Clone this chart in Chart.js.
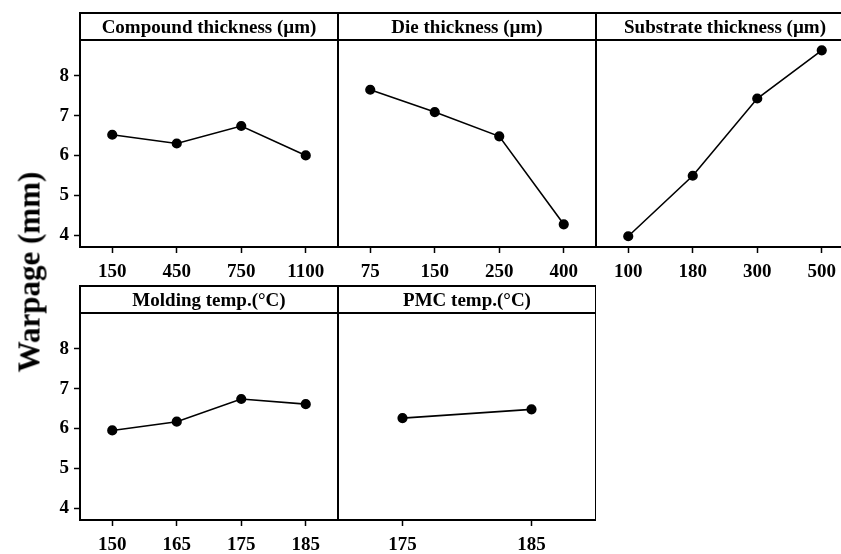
<!DOCTYPE html>
<html><head><meta charset="utf-8">
<script src="https://cdn.jsdelivr.net/npm/chart.js@4.4.0/dist/chart.umd.min.js"></script>
<style>
html,body{margin:0;padding:0;background:#fff;overflow:hidden;width:841px;height:554px;}
#wrap{position:relative;width:841px;height:554px;overflow:hidden;background:#fff;}
canvas{position:absolute;}
#ylab{position:absolute;left:28.5px;top:271.5px;transform:translate(-50%,-50%) rotate(-90deg);white-space:nowrap;font:bold 31px "Liberation Serif",serif;color:#000;line-height:1;}
</style></head><body>
<div id="wrap">
<canvas id="c1" width="338" height="280" style="left:0;top:0"></canvas>
<canvas id="c2" width="258" height="280" style="left:338px;top:0"></canvas>
<canvas id="c3" width="258" height="280" style="left:596px;top:0"></canvas>
<canvas id="c4" width="338" height="282" style="left:0;top:272px"></canvas>
<canvas id="c5" width="258" height="282" style="left:338px;top:272px"></canvas>
<div id="ylab">Warpage (mm)</div>
</div>
<script>
// ---- data ----
const compoundLabels = ['150','450','750','1100'];
const compoundValues = [6.52, 6.30, 6.74, 6.00];
const dieLabels = ['75','150','250','400'];
const dieValues = [7.65, 7.09, 6.48, 4.27];
const substrateLabels = ['100','180','300','500'];
const substrateValues = [3.97, 5.49, 7.43, 8.64];
const moldingLabels = ['150','165','175','185'];
const moldingValues = [5.95, 6.17, 6.74, 6.61];
const pmcLabels = ['175','185'];
const pmcValues = [6.26, 6.48];
const panelTitles = ['Compound thickness (\u00b5m)','Die thickness (\u00b5m)','Substrate thickness (\u00b5m)','Molding temp.(\u00b0C)','PMC temp.(\u00b0C)'];
const yTicks = [4,5,6,7,8];
const yMin = 3.7, yMax = 8.9;

const FONT = '"Liberation Serif", "Times New Roman", serif';

const framePlugin = {
  id: 'frame',
  afterDraw(chart, args, opts) {
    const {ctx, chartArea: a} = chart;
    const hTop = a.top - opts.headerH;
    ctx.save();
    ctx.strokeStyle = '#000';
    ctx.lineWidth = 2;
    ctx.beginPath();
    ctx.rect(a.left, hTop, a.right - a.left, a.bottom - hTop);
    ctx.moveTo(a.left, a.top); ctx.lineTo(a.right, a.top);
    ctx.stroke();
    ctx.fillStyle = '#000';
    ctx.font = 'bold 19px ' + FONT;
    ctx.textAlign = 'center';
    ctx.textBaseline = 'middle';
    ctx.fillText(opts.title, (a.left + a.right) / 2, hTop + opts.headerH / 2 + 1.5);
    ctx.restore();
  }
};

function makePanel(id, labels, values, title, showY, padTop, xH) {
  return new Chart(document.getElementById(id), {
    type: 'line',
    data: {
      labels: labels,
      datasets: [{
        data: values,
        borderColor: '#000',
        backgroundColor: '#000',
        borderWidth: 1.6,
        pointRadius: 4.3,
        pointBackgroundColor: '#000',
        pointBorderColor: '#000',
        tension: 0
      }]
    },
    options: {
      responsive: false,
      animation: false,
      devicePixelRatio: 1,
      layout: { autoPadding: false, padding: { top: padTop, left: 0, right: 0, bottom: 0 } },
      plugins: {
        legend: { display: false },
        tooltip: { enabled: false },
        frame: { title: title, headerH: 27 }
      },
      scales: {
        x: {
          type: 'category',
          offset: true,
          border: { display: false },
          grid: { display: true, drawOnChartArea: false, drawTicks: true, tickLength: 6, tickColor: '#000', tickWidth: 1.5 },
          ticks: { color: '#000', font: { family: FONT, size: 19, weight: 'bold' }, padding: 8, maxRotation: 0, autoSkip: false },
          afterFit(s) { s.height = xH; }
        },
        y: {
          display: showY,
          min: yMin, max: yMax,
          border: { display: false },
          grid: { display: true, drawOnChartArea: false, drawTicks: true, tickLength: 6, tickColor: '#000', tickWidth: 1.5 },
          ticks: { color: '#000', font: { family: FONT, size: 19, weight: 'bold' }, padding: 5 },
          afterBuildTicks(s) { s.ticks = yTicks.map(v => ({ value: v })); },
          afterFit(s) { s.width = showY ? 80 : 0; }
        }
      }
    },
    plugins: [framePlugin]
  });
}

makePanel('c1', compoundLabels, compoundValues, panelTitles[0], true, 40, 33);
makePanel('c2', dieLabels, dieValues, panelTitles[1], false, 40, 33);
makePanel('c3', substrateLabels, substrateValues, panelTitles[2], false, 40, 33);
makePanel('c4', moldingLabels, moldingValues, panelTitles[3], true, 41, 34);
makePanel('c5', pmcLabels, pmcValues, panelTitles[4], false, 41, 34);
</script>
</body></html>
